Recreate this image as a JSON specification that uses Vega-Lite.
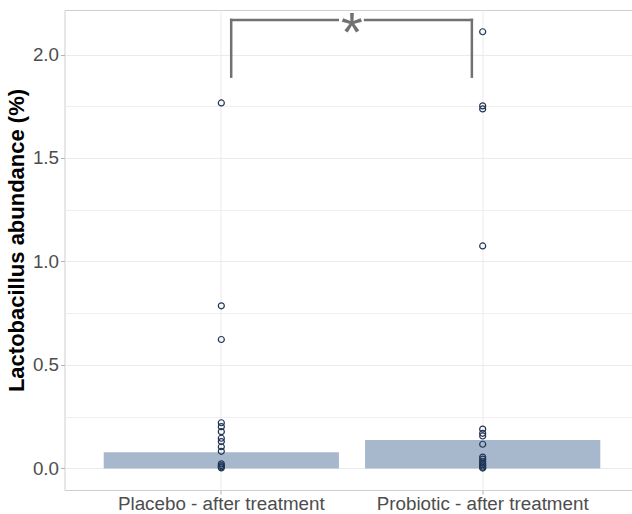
{
  "$schema": "https://vega.github.io/schema/vega-lite/v6.json",
  "width": 575,
  "height": 480,
  "autosize": {"type": "none"},
  "padding": {"left": 64.5, "top": 10, "right": 0, "bottom": 24},
  "background": "white",
  "config": {
    "font": "Liberation Sans",
    "view": {"stroke": "#cfcfcf", "strokeWidth": 1}
  },
  "datasets": {
    "bars": [
      {"group": "Placebo - after treatment", "abundance": 0.078},
      {"group": "Probiotic - after treatment", "abundance": 0.138}
    ],
    "points": [
      {"group": "Placebo - after treatment", "abundance": 1.766},
      {"group": "Placebo - after treatment", "abundance": 0.786},
      {"group": "Placebo - after treatment", "abundance": 0.623},
      {"group": "Placebo - after treatment", "abundance": 0.221},
      {"group": "Placebo - after treatment", "abundance": 0.202},
      {"group": "Placebo - after treatment", "abundance": 0.178},
      {"group": "Placebo - after treatment", "abundance": 0.146},
      {"group": "Placebo - after treatment", "abundance": 0.13},
      {"group": "Placebo - after treatment", "abundance": 0.105},
      {"group": "Placebo - after treatment", "abundance": 0.083},
      {"group": "Placebo - after treatment", "abundance": 0.022},
      {"group": "Placebo - after treatment", "abundance": 0.014},
      {"group": "Placebo - after treatment", "abundance": 0.008},
      {"group": "Placebo - after treatment", "abundance": 0.003},
      {"group": "Probiotic - after treatment", "abundance": 2.11},
      {"group": "Probiotic - after treatment", "abundance": 1.752},
      {"group": "Probiotic - after treatment", "abundance": 1.737},
      {"group": "Probiotic - after treatment", "abundance": 1.075},
      {"group": "Probiotic - after treatment", "abundance": 0.19},
      {"group": "Probiotic - after treatment", "abundance": 0.17},
      {"group": "Probiotic - after treatment", "abundance": 0.157},
      {"group": "Probiotic - after treatment", "abundance": 0.117},
      {"group": "Probiotic - after treatment", "abundance": 0.055},
      {"group": "Probiotic - after treatment", "abundance": 0.045},
      {"group": "Probiotic - after treatment", "abundance": 0.035},
      {"group": "Probiotic - after treatment", "abundance": 0.025},
      {"group": "Probiotic - after treatment", "abundance": 0.018},
      {"group": "Probiotic - after treatment", "abundance": 0.012},
      {"group": "Probiotic - after treatment", "abundance": 0.006},
      {"group": "Probiotic - after treatment", "abundance": 0.002}
    ],
    "sig": [
      {"g1": "Placebo - after treatment", "g2": "Probiotic - after treatment", "y": 2.167, "ytip": 1.893, "label": "*"}
    ]
  },
  "layer": [
    {
      "data": {"name": "bars"},
      "mark": {"type": "bar", "color": "#a8b8cc"},
      "encoding": {
        "x": {
          "field": "group",
          "type": "nominal",
          "sort": null,
          "scale": {"paddingInner": 0.1, "paddingOuter": 0.15},
          "axis": {
            "title": null,
            "labelAngle": 0,
            "labelFontSize": 18.8,
            "labelLimit": 0,
            "labelColor": "#4d4d4d",
            "labelPadding": 0,
            "tickSize": 4,
            "tickColor": "#b3b3b3",
            "domain": false,
            "grid": true,
            "gridColor": "#ebebeb",
            "gridWidth": 1
          }
        },
        "y": {
          "field": "abundance",
          "type": "quantitative",
          "scale": {"domain": [-0.104, 2.215], "nice": false, "zero": false},
          "axis": {
            "title": "Lactobacillus abundance (%)",
            "titleFontSize": 22,
            "titleFontWeight": "bold",
            "titleColor": "#000000",
            "titlePadding": 4,
            "titleY": 230,
            "values": [0, 0.25, 0.5, 0.75, 1, 1.25, 1.5, 1.75, 2],
            "labelExpr": "datum.value % 0.5 == 0 ? format(datum.value, '.1f') : ''",
            "labelFontSize": 18.8,
            "labelColor": "#4d4d4d",
            "labelPadding": 2,
            "tickSize": 4,
            "tickColor": {"condition": {"test": "datum.value % 0.5 != 0", "value": "transparent"}, "value": "#b3b3b3"},
            "domain": false,
            "grid": true,
            "gridColor": "#ebebeb",
            "gridWidth": {"condition": {"test": "datum.value % 0.5 != 0", "value": 0.8}, "value": 1.1}
          }
        }
      }
    },
    {
      "data": {"name": "points"},
      "mark": {"type": "point", "filled": false, "stroke": "#1f3556", "strokeWidth": 1.2, "size": 36, "opacity": 1},
      "encoding": {
        "x": {"field": "group", "type": "nominal", "sort": null},
        "y": {"field": "abundance", "type": "quantitative"}
      }
    },
    {
      "data": {"name": "sig"},
      "mark": {"type": "rule", "color": "#717171", "strokeWidth": 2.5, "strokeCap": "square"},
      "encoding": {
        "x": {"field": "g1", "type": "nominal", "bandPosition": 0.542},
        "y": {"field": "ytip", "type": "quantitative"},
        "y2": {"field": "y"}
      }
    },
    {
      "data": {"name": "sig"},
      "mark": {"type": "rule", "color": "#717171", "strokeWidth": 2.5, "strokeCap": "square"},
      "encoding": {
        "x": {"field": "g2", "type": "nominal", "bandPosition": 0.454},
        "y": {"field": "ytip", "type": "quantitative"},
        "y2": {"field": "y"}
      }
    },
    {
      "data": {"name": "sig"},
      "mark": {"type": "rule", "color": "#717171", "strokeWidth": 2.5, "strokeCap": "square"},
      "encoding": {
        "x": {"field": "g1", "type": "nominal", "bandPosition": 0.542},
        "x2": {"field": "g1", "bandPosition": 0.995},
        "y": {"field": "y", "type": "quantitative"}
      }
    },
    {
      "data": {"name": "sig"},
      "mark": {"type": "rule", "color": "#717171", "strokeWidth": 2.5, "strokeCap": "square"},
      "encoding": {
        "x": {"field": "g2", "type": "nominal", "bandPosition": 0.0},
        "x2": {"field": "g2", "bandPosition": 0.454},
        "y": {"field": "y", "type": "quantitative"}
      }
    },
    {
      "data": {"name": "sig"},
      "mark": {"type": "text", "color": "#717171", "fontSize": 56, "baseline": "alphabetic", "align": "center", "dy": 31},
      "encoding": {
        "x": {"field": "g1", "type": "nominal", "bandPosition": 1.055},
        "y": {"field": "y", "type": "quantitative"},
        "text": {"field": "label"}
      }
    }
  ]
}
